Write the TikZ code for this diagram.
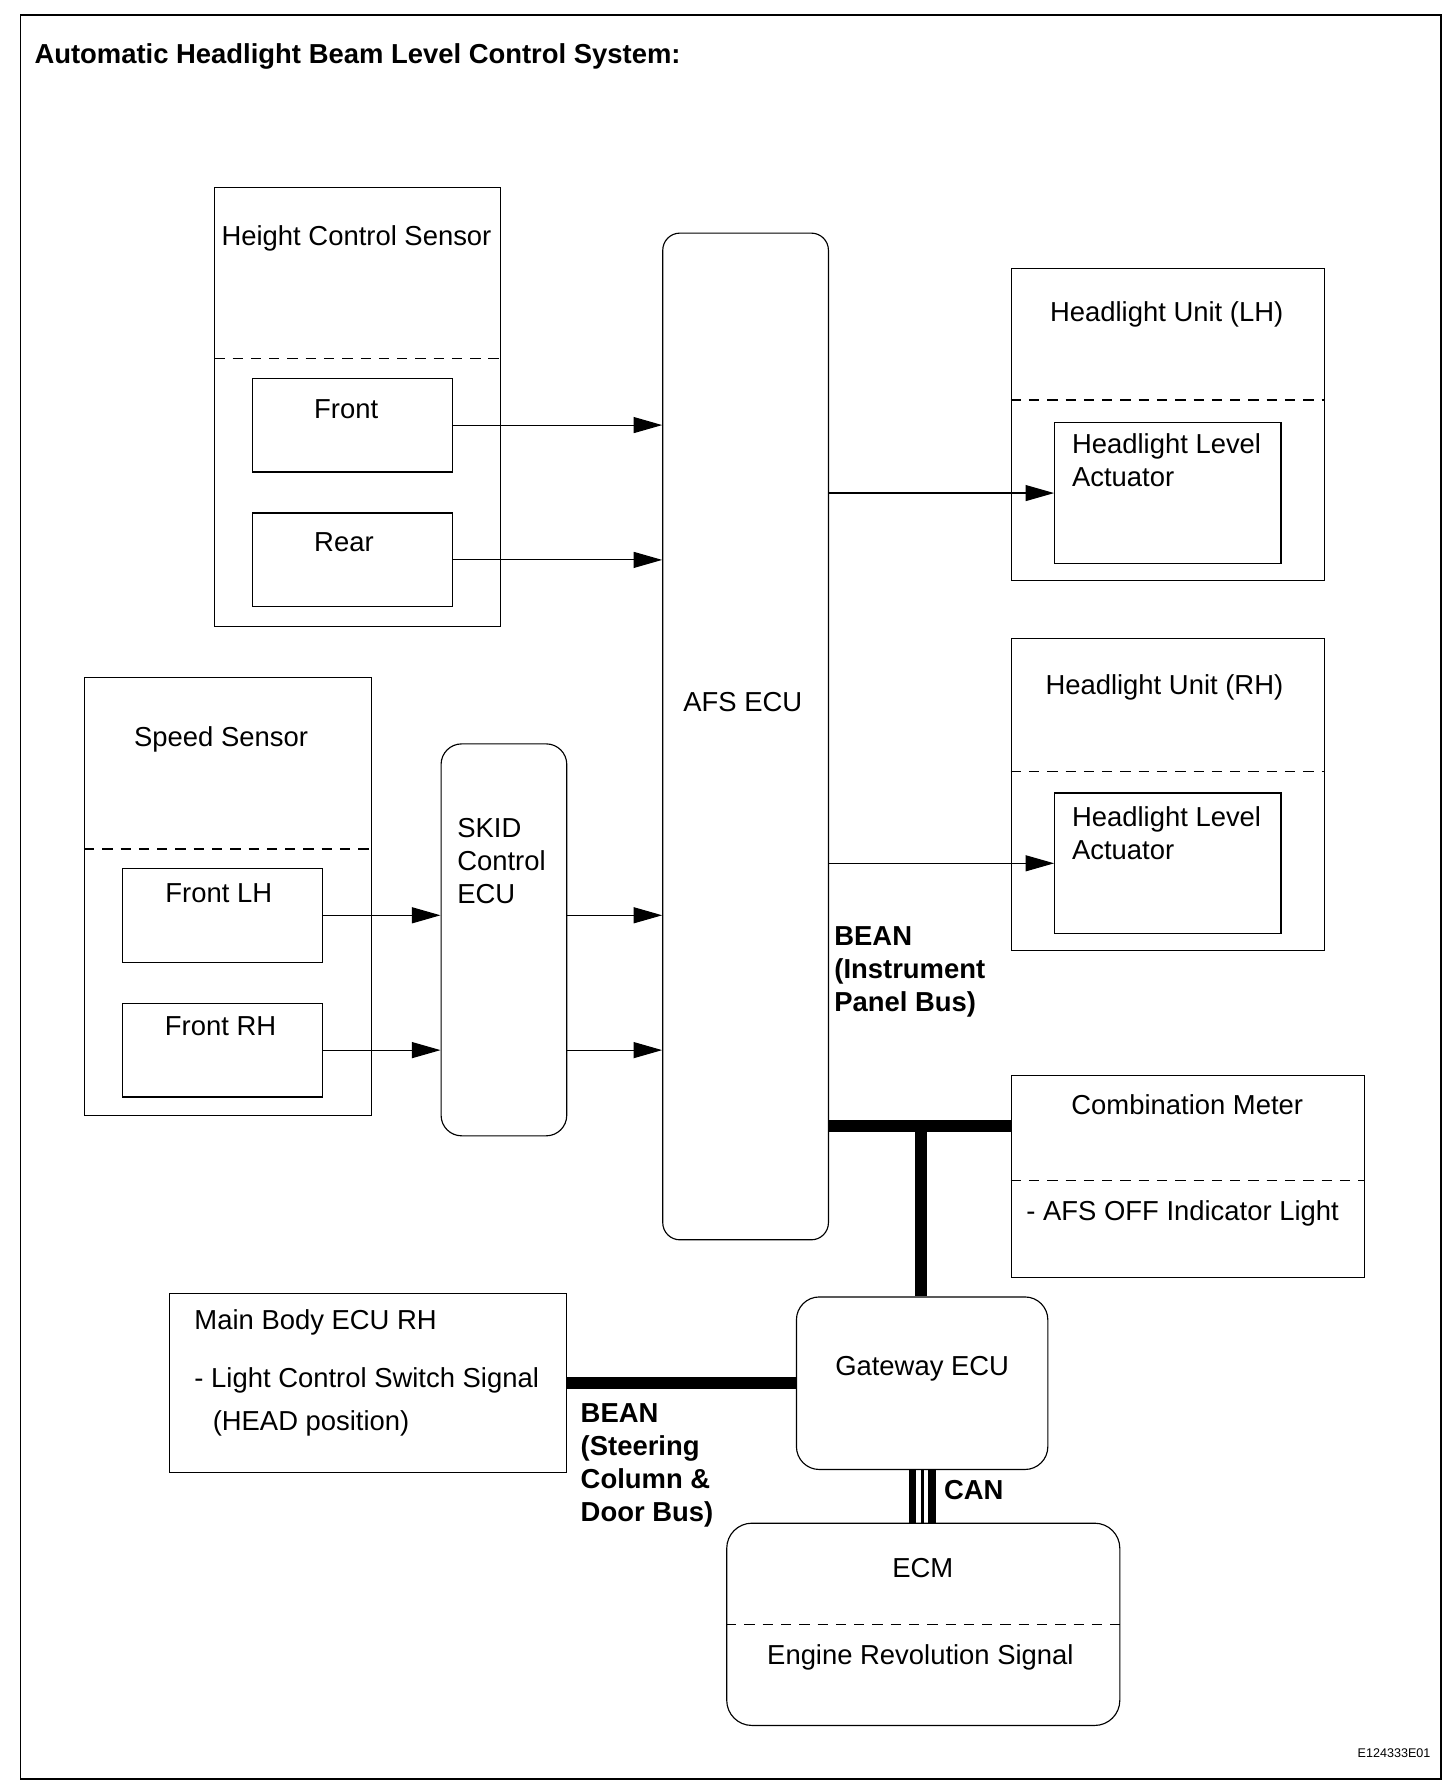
\documentclass[tikz,border=0pt]{standalone}
\usepackage{fontspec}
\setmainfont{Liberation Sans}
\usetikzlibrary{arrows.meta}
\begin{document}
\begin{tikzpicture}[x=1pt,y=-1pt,
  box/.style={draw, line width=1pt, inner sep=0pt},
  rbox/.style={box, rounded corners=16pt},
  lbl/.style={inner sep=0pt, font=\fontsize{24}{29}\selectfont, align=left},
  lblb/.style={inner sep=0pt, font=\fontsize{24}{29}\selectfont\bfseries, align=left},
  divider/.style={line width=1pt, dash pattern=on 9pt off 7pt},
  arr/.style={line width=1pt, -{Triangle[length=25pt,width=14pt]}},
  bus/.style={line width=10.5pt},
]
\useasboundingbox (0,0) rectangle (1274,1563);
\node[box, line width=1.6pt, minimum width=1243pt, minimum height=1544pt] (frame) at (639.5,785) {};
\node[lblb, anchor=base west] (title) at (30,55.5) {Automatic Headlight Beam Level Control System:};
\node[lbl, anchor=base east, font=\fontsize{11}{13}\selectfont] (code) at (1252,1538) {E124333E01};

% Height control sensor
\node[box, minimum width=250pt, minimum height=384pt] (hcs) at (313,356) {};
\draw[divider] (hcs.west |- 0,314) -- (hcs.east |- 0,314);
\node[lbl, anchor=base] (hcst) at (312,214.5) {Height Control Sensor};
\node[box, minimum width=175pt, minimum height=82pt] (front) at (308.5,372) {};
\node[lbl, anchor=base] (frontt) at (303,366.5) {Front};
\node[box, minimum width=175pt, minimum height=82pt] (rear) at (308.5,490) {};
\node[lbl, anchor=base] (reart) at (301,482.5) {Rear};

% AFS ECU
\node[rbox, rounded corners=15pt, minimum width=145pt, minimum height=881pt] (afs) at (652.5,644.5) {};
\node[lbl, anchor=base] (afst) at (650,622.5) {AFS ECU};

% Headlight units
\node[box, minimum width=274pt, minimum height=273pt] (hlu) at (1022,371.5) {};
\draw[divider] (hlu.west |- 0,350) -- (hlu.east |- 0,350);
\node[lbl, anchor=base] (hlut) at (1021,281.5) {Headlight Unit (LH)};
\node[box, minimum width=198pt, minimum height=123pt] (act1) at (1022,431.5) {};
\node[lbl, anchor=base west] (act1t) at (938,425.5) {Headlight Level\\Actuator};

\node[box, minimum width=274pt, minimum height=273pt] (hru) at (1022,695.5) {};
\draw[divider] (hru.west |- 0,675) -- (hru.east |- 0,675);
\node[lbl, anchor=base] (hrut) at (1019,607.5) {Headlight Unit (RH)};
\node[box, minimum width=198pt, minimum height=123pt] (act2) at (1022,755.5) {};
\node[lbl, anchor=base west] (act2t) at (938,752.5) {Headlight Level\\Actuator};

% Speed sensor
\node[box, minimum width=251pt, minimum height=383pt] (ss) at (199.5,784.5) {};
\draw[divider] (ss.west |- 0,743) -- (ss.east |- 0,743);
\node[lbl, anchor=base] (sst) at (193.5,653.5) {Speed Sensor};
\node[box, minimum width=175pt, minimum height=82pt] (flh) at (194.5,801) {};
\node[lbl, anchor=base] (flht) at (191.5,789.5) {Front LH};
\node[box, minimum width=175pt, minimum height=82pt] (frh) at (194.5,919) {};
\node[lbl, anchor=base] (frht) at (193,906.5) {Front RH};

% SKID
\node[rbox, rounded corners=18pt, minimum width=110pt, minimum height=343pt] (skid) at (441,822.5) {};
\node[lbl, anchor=base west] (skidt) at (400,790.5) {SKID\\Control\\ECU};

% BEAN label
\node[lblb, anchor=base west] (bean1) at (730,885.5) {BEAN\\(Instrument\\Panel Bus)};

% Combination meter
\node[box, minimum width=309pt, minimum height=177pt] (cm) at (1039.5,1029.5) {};
\draw[divider] (cm.west |- 0,1033) -- (cm.east |- 0,1033);
\node[lbl, anchor=base] (cmt) at (1039,975.5) {Combination Meter};
\node[lbl, anchor=base west] (cmi) at (898,1068.5) {- AFS OFF Indicator Light};

% Main body ECU
\node[box, minimum width=348pt, minimum height=157pt] (mb) at (322,1210.5) {};
\node[lbl, anchor=base west] (mbt) at (170,1163.5) {Main Body ECU RH};
\node[lbl, anchor=base west] (mbs) at (170,1214.5) {- Light Control Switch Signal};
\node[lbl, anchor=base west] (mbh) at (186,1251.5) {(HEAD position)};

\node[lblb, anchor=base west] (bean2) at (508,1331.5) {BEAN\\(Steering\\Column \&\\Door Bus)};

% Gateway
\node[rbox, rounded corners=20pt, minimum width=220pt, minimum height=151pt] (gw) at (807,1210.5) {};
\node[lbl, anchor=base] (gwt) at (807,1203.5) {Gateway ECU};

% ECM
\node[rbox, rounded corners=22pt, minimum width=344pt, minimum height=177pt] (ecm) at (808,1421.5) {};
\draw[divider] (ecm.west) -- (ecm.east);
\node[lbl, anchor=base] (ecmt) at (807.5,1380.5) {ECM};
\node[lbl, anchor=base] (ecms) at (805.5,1456.5) {Engine Revolution Signal};

\node[lblb, anchor=base west] (can) at (826,1312) {CAN};

% connectors
\draw[arr] (front.east) -- (front.east -| afs.west);
\draw[arr] (rear.east) -- (rear.east -| afs.west);
\draw[arr] (act1.west -| afs.east) -- (act1.west);
\draw[arr] (act2.west -| afs.east) -- (act2.west);
\draw[arr] (flh.east) -- (flh.east -| skid.west);
\draw[arr] (frh.east) -- (frh.east -| skid.west);
\draw[arr] (flh.east -| skid.east) -- (flh.east -| afs.west);
\draw[arr] (frh.east -| skid.east) -- (frh.east -| afs.west);

\coordinate (j) at (806,985);
\draw[bus] (afs.east |- j) -- (cm.west |- j);
\draw[bus] (j) -- (j |- gw.north);
\draw[bus] (mb.east) -- (gw.west);

\draw[line width=6.5pt] ([xshift=-8.5pt]gw.south) -- ([xshift=-8.5pt]gw.south |- ecm.north);
\draw[line width=2.5pt] (gw.south) -- (gw.south |- ecm.north);
\draw[line width=6.5pt] ([xshift=8.5pt]gw.south) -- ([xshift=8.5pt]gw.south |- ecm.north);
\end{tikzpicture}
\end{document}
